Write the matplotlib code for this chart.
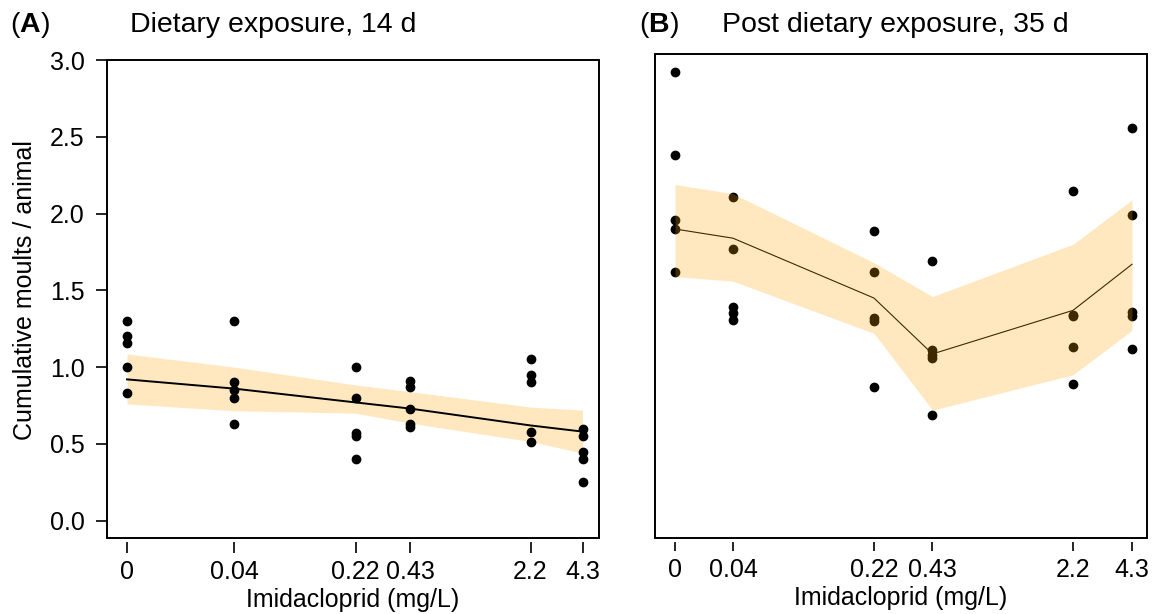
import numpy as np
import matplotlib
matplotlib.use("Agg")
import matplotlib.pyplot as plt
from matplotlib.patches import Rectangle

plt.rcParams['font.family'] = ['Liberation Sans', 'DejaVu Sans']
plt.rcParams['mathtext.fontset'] = 'custom'
plt.rcParams['mathtext.rm'] = 'Liberation Sans'
plt.rcParams['mathtext.bf'] = 'Liberation Sans:bold'

# ---- data ----
conc_labels = ["0", "0.04", "0.22", "0.43", "2.2", "4.3"]

points_A = [
    [1.30, 1.20, 1.16, 1.00, 0.83],
    [1.30, 0.90, 0.85, 0.80, 0.63],
    [1.00, 0.80, 0.57, 0.55, 0.40],
    [0.91, 0.87, 0.73, 0.63, 0.61],
    [1.05, 0.95, 0.90, 0.58, 0.51],
    [0.60, 0.55, 0.45, 0.40, 0.25],
]
fit_A = [0.92, 0.86, 0.77, 0.73, 0.62, 0.58]
upper_A = [1.086, 1.00, 0.884, 0.84, 0.74, 0.72]
lower_A = [0.76, 0.716, 0.70, 0.635, 0.515, 0.44]

points_B = [
    [2.92, 2.38, 1.96, 1.90, 1.62],
    [2.11, 1.77, 1.39, 1.35, 1.31],
    [1.89, 1.62, 1.32, 1.30, 0.87],
    [1.69, 1.11, 1.08, 1.06, 0.69],
    [2.15, 1.34, 1.33, 1.13, 0.89],
    [2.56, 1.99, 1.36, 1.33, 1.12],
]
fit_B = [1.90, 1.84, 1.45, 1.086, 1.37, 1.67]
upper_B = [2.19, 2.13, 1.68, 1.46, 1.80, 2.09]
lower_B = [1.59, 1.56, 1.22, 0.72, 0.95, 1.24]

yticks_A = [0.0, 0.5, 1.0, 1.5, 2.0, 2.5, 3.0]

# ---- layout: slot positions of the concentration levels on each x axis ----
slots_A = [0.0, 1.07, 2.285, 2.83, 4.035, 4.555]
slots_B = [0.0, 0.58, 1.99, 2.575, 3.98, 4.57]

band_color = 'orange'
FS = 18
TFS = 20.5

fig = plt.figure(figsize=(11.52, 6.14), dpi=100)

axA = fig.add_axes([106.7/1152, 1-538/614, (599-106.7)/1152, (538-60)/614])
axB = fig.add_axes([655/1152, 1-538/614, (1147-655)/1152, (538-54.3)/614])

# Panel A
xa = np.array(slots_A)
axA.fill_between(xa, lower_A, upper_A, color=band_color, alpha=0.25, lw=0, zorder=1)
axA.plot(xa, fit_A, color='black', lw=1.4, zorder=2)
for x, ys in zip(xa, points_A):
    axA.plot([x]*len(ys), ys, 'o', color='black', ms=6, zorder=3, clip_on=False)
axA.set_xlim(-0.203, 4.72)
axA.set_ylim(-0.113, 3.0)
axA.set_yticks(yticks_A)
axA.set_yticklabels([f"{v:.1f}" for v in yticks_A])

# Panel B
xb = np.array(slots_B)
for x, ys in zip(xb, points_B):
    axB.plot([x]*len(ys), ys, 'o', color='black', ms=6, zorder=1, clip_on=False)
axB.plot(xb, fit_B, color='black', lw=0.8, zorder=2)
axB.fill_between(xb, lower_B, upper_B, color=band_color, alpha=0.25, lw=0, zorder=3)
axB.set_xlim(-0.20, 4.72)
axB.set_ylim(-0.113, 3.038)
axB.set_yticks([])

for ax, xs, tl in ((axA, xa, 8), (axB, xb, 6.5)):
    for s in ax.spines.values():
        s.set_visible(False)
    ax.spines['bottom'].set_position(('outward', 3))
    ax.add_patch(Rectangle((0, 0), 1, 1, transform=ax.transAxes, fill=False,
                           ec='black', lw=1.4, clip_on=False, zorder=5))
    ax.set_xticks(xs)
    ax.set_xticklabels(conc_labels)
    ax.tick_params(axis='x', direction='out', length=tl, width=1.2, pad=5, labelsize=FS)
    ax.tick_params(axis='y', direction='out', length=8, width=1.2, pad=8, labelsize=FS)
    ax.set_xlabel("Imidacloprid (mg/L)", fontsize=FS, labelpad=3)

fig.text(25/1152, 1-290/614, "Cumulative moults / animal", fontsize=FS,
         rotation=90, ha='center', va='center')

fig.text(10/1152, 1-25/614, r"($\mathbf{A}$)", fontsize=TFS, va='center', ha='left')
fig.text(130/1152, 1-25/614, "Dietary exposure, 14 d", fontsize=TFS, va='center', ha='left')
fig.text(639/1152, 1-25/614, r"($\mathbf{B}$)", fontsize=TFS, va='center', ha='left')
fig.text(722/1152, 1-25/614, "Post dietary exposure, 35 d", fontsize=TFS, va='center', ha='left')

fig.savefig("out.png", dpi=100)
